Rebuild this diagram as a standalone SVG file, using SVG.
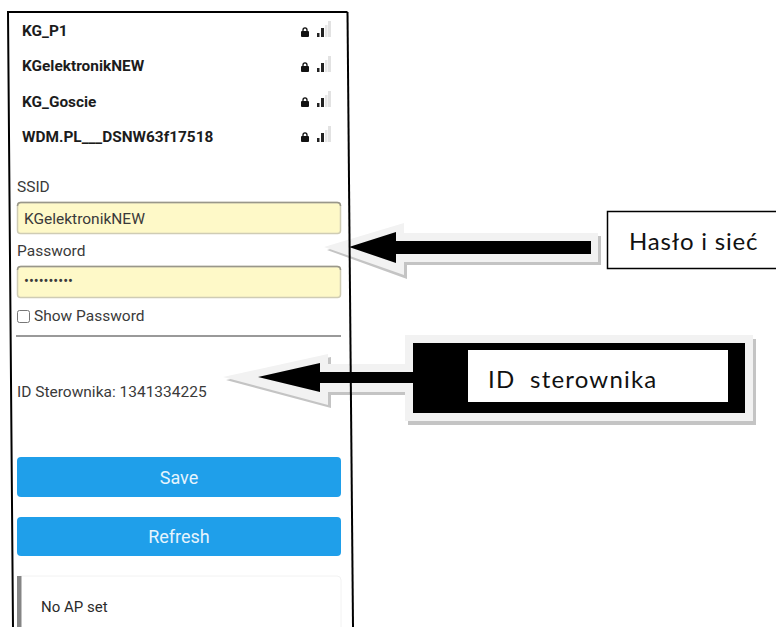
<svg xmlns="http://www.w3.org/2000/svg" width="776" height="627" viewBox="0 0 776 627">
<style>
text{font-family:Roboto,"Liberation Sans",sans-serif;fill:#2b2b2b}
.net{font-size:15.4px;font-weight:700;fill:#1c1c1c}
.lab{font-size:15.5px;fill:#3a3a3a}
.inp{fill:#fef9c8;stroke:#cfccb4;stroke-width:1.5}
.inpt{stroke:#99978a;stroke-width:1.5;fill:none}
.btn{fill:#1f9fea}
.btnt{font-size:18px;fill:#e6f4fd;text-anchor:middle}
.call{font-family:Lato,"Open Sans",sans-serif;font-size:24px;fill:#111}
.frame{stroke:#000;stroke-width:2;fill:none}
.halo{fill:#f2f2f2}
.shadow{fill:#c4c4c4}
</style>
<defs>
<g id="wifi">
<rect x="301" y="31" width="8" height="6" rx="1" fill="#111"/>
<path d="M303 31.500v-1.500q0-2.200 2-2.200t2 2.200v1.500" fill="none" stroke="#111" stroke-width="1.300"/>
<rect x="328" y="21" width="3" height="16" fill="#e2e2e2"/>
<rect x="325" y="25" width="2.500" height="12" fill="#e6e6e6"/>
<rect x="321" y="28" width="3" height="9" fill="#222"/>
<rect x="317" y="33" width="2.500" height="4" fill="#222"/>
</g>
</defs>
<rect width="776" height="627" fill="#fff"/>
<g id="phone-frame"><path class="frame" d="M13 627 8 12H347.500"/></g>
<g id="wifi-list">
<text class="net" x="22" y="36">KG_P1</text><use href="#wifi"/>
<text class="net" x="22" y="71">KGelektronikNEW</text><use href="#wifi" y="35"/>
<text class="net" x="22" y="107">KG_Goscie</text><use href="#wifi" y="70"/>
<text class="net" x="22" y="142">WDM.PL___DSNW63f17518</text><use href="#wifi" y="105"/>
</g>
<g id="form">
<text class="lab" x="17" y="192">SSID</text>
<rect class="inp" x="17.500" y="202.500" width="323" height="31" rx="3"/>
<path class="inpt" d="M17.500 206q0-3.500 3.500-3.500H337q3.500 0 3.500 3.500"/>
<text class="lab" x="24" y="224">KGelektronikNEW</text>
<text class="lab" x="17" y="256">Password</text>
<rect class="inp" x="17.500" y="266.500" width="323" height="31" rx="3"/>
<path class="inpt" d="M17.500 270q0-3.500 3.500-3.500H337q3.500 0 3.500 3.500"/>
<text class="lab" x="24" y="286" style="font-size:14.500px">••••••••••</text>
<rect x="17.500" y="310.500" width="12" height="12" rx="2" fill="#fff" stroke="#777"/>
<text class="lab" x="34" y="321">Show Password</text>
<path d="M16 336H341" stroke="#777" stroke-width="1.500"/>
<text class="lab" x="17" y="397">ID Sterownika: 1341334225</text>
</g>
<g id="save-button"><rect class="btn" x="17" y="457" width="324" height="40" rx="4"/><text class="btnt" x="179" y="484">Save</text></g>
<g id="refresh-button"><rect class="btn" x="17" y="517" width="324" height="39" rx="4"/><text class="btnt" x="179" y="543">Refresh</text></g>
<g id="status-card">
<path d="M19 627V578q0-2 2-2H337q4 0 4 4v47" fill="#fff" stroke="#f2f2f2"/>
<rect x="17" y="576" width="4.500" height="51" fill="#858585"/>
<text x="41" y="612" font-size="15" fill="#222">No AP set</text>
</g>
<g id="node-id">
<rect class="shadow" x="408" y="339" width="348" height="86"/>
<rect class="halo" x="405" y="335" width="348" height="86"/>
<rect x="413" y="343" width="332" height="70" fill="#000"/>
<rect x="468" y="350" width="260" height="52" fill="#fff"/>
<text class="call" x="488" y="388" xml:space="preserve" letter-spacing="1.200">ID  sterownika</text>
</g>
<g id="connectors">
<path class="shadow" d="M327 250 403 226V236H601V265H407V279z"/>
<path class="halo" d="M324 247 404 223V233H598V262H404V275z"/>
<path d="M349 247 396 232V241H591V254H396V263z" fill="#000"/>
<path class="shadow" d="M226 380 331 357V367H405V395H331V408z"/>
<path class="halo" d="M223 377 328 354V364H405V392H328V405z"/>
<path d="M258 377 320 363V372H414V383H320V392z" fill="#000"/>
<path d="M347.500 12 353 627" stroke="#000" stroke-width="2" fill="none"/>
</g>
<g id="node-haslo">
<rect x="607.500" y="211.500" width="170" height="57" fill="#fff" stroke="#000" stroke-width="1.500"/>
<text class="call" x="629" y="250" letter-spacing="0.800">Hasło i sieć</text>
</g>
</svg>
